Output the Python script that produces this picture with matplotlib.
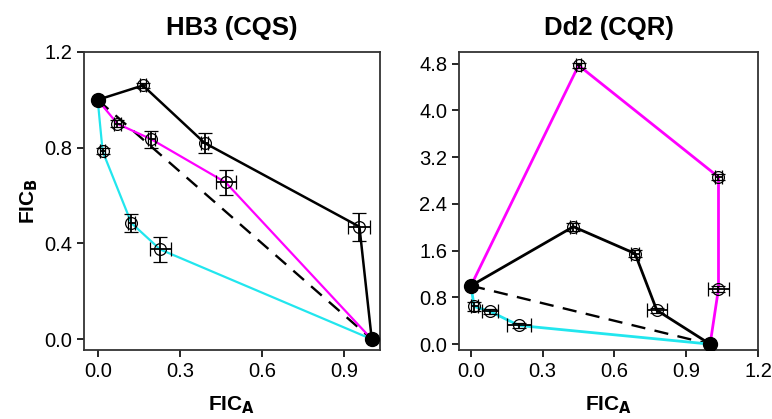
import matplotlib.pyplot as plt

plt.rcParams['font.family'] = ['Liberation Sans', 'DejaVu Sans']

# HB3 (CQS)
hb3_black_x = [0, 0.165, 0.39, 0.955, 1]
hb3_black_y = [1, 1.06, 0.82, 0.47, 0]
hb3_black_xerr = [0, 0.012, 0.012, 0.04, 0]
hb3_black_yerr = [0, 0.012, 0.042, 0.058, 0]

hb3_mag_x = [0, 0.072, 0.196, 0.467, 1]
hb3_mag_y = [1, 0.90, 0.835, 0.655, 0]
hb3_mag_xerr = [0, 0.012, 0.012, 0.037, 0]
hb3_mag_yerr = [0, 0.015, 0.035, 0.052, 0]

hb3_cyan_x = [0, 0.018, 0.123, 0.228, 1]
hb3_cyan_y = [1, 0.785, 0.485, 0.375, 0]
hb3_cyan_xerr = [0, 0.01, 0.012, 0.038, 0]
hb3_cyan_yerr = [0, 0.012, 0.037, 0.053, 0]

# Dd2 (CQR)
dd2_mag_x = [0, 0.45, 1.035, 1.035, 1]
dd2_mag_y = [1, 4.77, 2.86, 0.95, 0]
dd2_mag_xerr = [0, 0.012, 0.015, 0.044, 0]
dd2_mag_yerr = [0, 0.04, 0.05, 0.05, 0]

dd2_black_x = [0, 0.428, 0.686, 0.777, 1]
dd2_black_y = [1, 2.01, 1.55, 0.58, 0]
dd2_black_xerr = [0, 0.012, 0.015, 0.042, 0]
dd2_black_yerr = [0, 0.07, 0.06, 0.04, 0]

dd2_cyan_x = [0, 0.013, 0.08, 0.2, 1]
dd2_cyan_y = [1, 0.645, 0.56, 0.32, 0]
dd2_cyan_xerr = [0, 0.015, 0.035, 0.05, 0]
dd2_cyan_yerr = [0, 0.07, 0.04, 0.04, 0]

fig = plt.figure(figsize=(7.72, 4.19), dpi=100)
ax1 = fig.add_axes([0.1088, 0.1647, 0.3834, 0.7113])
ax2 = fig.add_axes([0.5946, 0.1647, 0.3872, 0.7113])


def series(ax, x, y, xe, ye, color, lw):
    ax.plot(x, y, color=color, lw=lw, zorder=2)
    ax.errorbar(x[1:-1], y[1:-1], xerr=xe[1:-1], yerr=ye[1:-1], fmt='o',
                mfc='none', mec='black', ms=8.5, mew=0.9, ecolor='black',
                elinewidth=1.3, capsize=5, capthick=1.3, zorder=3)


for ax in (ax1, ax2):
    ax.plot([0, 1], [1, 0], color='black', lw=1.7, ls=(0, (6, 4)), zorder=1)

series(ax1, hb3_cyan_x, hb3_cyan_y, hb3_cyan_xerr, hb3_cyan_yerr, '#22e6ee', 1.6)
series(ax1, hb3_mag_x, hb3_mag_y, hb3_mag_xerr, hb3_mag_yerr, '#ff00ff', 1.6)
series(ax1, hb3_black_x, hb3_black_y, hb3_black_xerr, hb3_black_yerr, 'black', 1.8)

series(ax2, dd2_cyan_x, dd2_cyan_y, dd2_cyan_xerr, dd2_cyan_yerr, '#22e6ee', 2)
series(ax2, dd2_mag_x, dd2_mag_y, dd2_mag_xerr, dd2_mag_yerr, '#ff00ff', 2)
series(ax2, dd2_black_x, dd2_black_y, dd2_black_xerr, dd2_black_yerr, 'black', 2)

for ax in (ax1, ax2):
    ax.plot([0, 1], [1, 0], 'o', color='black', ms=10, ls='none', zorder=4)
    for s in ax.spines.values():
        s.set_linewidth(1.3)
        s.set_color('#333333')
    ax.tick_params(direction='out', length=5, width=1.2, labelsize=14.5)
    ax.set_xlabel('FIC$_\\mathbf{A}$', fontsize=15, fontweight='bold', labelpad=10)

ax1.set_xlim(-0.05, 1.03)
ax1.set_ylim(-0.045, 1.2)
ax1.set_xticks([0.0, 0.3, 0.6, 0.9])
ax1.set_yticks([0.0, 0.4, 0.8, 1.2])
ax1.set_xticklabels(['0.0', '0.3', '0.6', '0.9'])
ax1.set_yticklabels(['0.0', '0.4', '0.8', '1.2'])
ax1.set_ylabel('FIC$_\\mathbf{B}$', fontsize=15, fontweight='bold', labelpad=3)
ax1.set_title('HB3 (CQS)', fontsize=18.5, fontweight='bold', pad=12)

ax2.set_xlim(-0.05, 1.2)
ax2.set_ylim(-0.1, 5.0)
ax2.set_xticks([0.0, 0.3, 0.6, 0.9, 1.2])
ax2.set_yticks([0.0, 0.8, 1.6, 2.4, 3.2, 4.0, 4.8])
ax2.set_xticklabels(['0.0', '0.3', '0.6', '0.9', '1.2'])
ax2.set_yticklabels(['0.0', '0.8', '1.6', '2.4', '3.2', '4.0', '4.8'])
ax2.set_title('Dd2 (CQR)', fontsize=18.5, fontweight='bold', pad=12)

fig.savefig('out.png', dpi=100)
